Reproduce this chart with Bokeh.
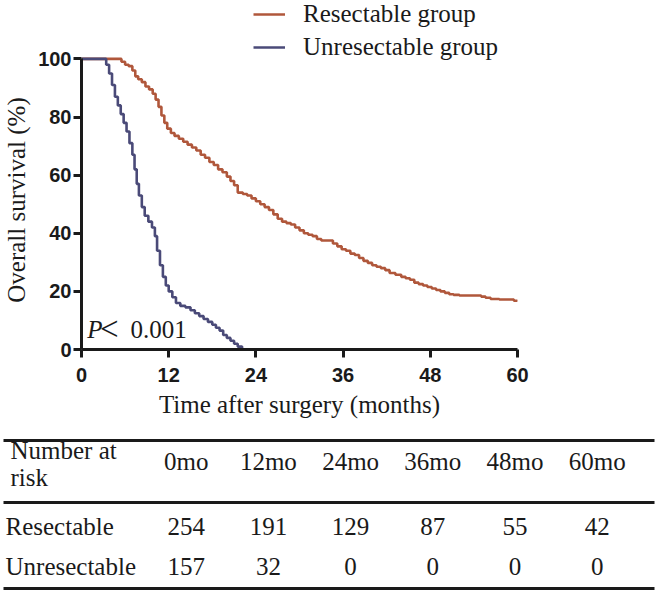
import math
from bokeh.plotting import figure
from bokeh.models import Range1d, Legend, LegendItem, Label, FixedTicker
from bokeh.embed import file_html
from bokeh.resources import INLINE
from bokeh.core.properties import value

# ---------------- data ----------------
resect_time = [0, 5.0, 5.5, 6.0, 6.5, 7.0, 7.4, 7.8, 8.3, 8.8, 9.3, 9.8, 10.2, 10.6, 11.0,
               11.4, 11.8, 12.3, 12.8, 13.4, 14.0, 14.6, 15.2, 15.8, 16.4, 17.0, 17.6,
               18.2, 18.8, 19.4, 20.0, 20.5, 21.0, 21.5, 22.2, 22.8, 23.4, 24.0, 24.6,
               25.2, 25.8, 26.4, 27.0, 27.6, 28.2, 28.8, 29.4, 30.0, 30.6, 31.2, 31.8,
               32.4, 33.0, 34.0, 34.6, 35.2, 35.8, 36.4, 37.0, 37.6, 38.2, 38.8, 39.4,
               40.0, 40.6, 41.2, 41.8, 42.4, 43.2, 44.0, 44.6, 45.2, 45.8, 46.4, 47.0,
               47.6, 48.2, 48.8, 49.4, 50.0, 50.6, 51.2, 52.0, 55.0, 55.6, 56.3, 57.5,
               59.5, 60.0]
resect_surv = [100, 100, 99, 98, 97.5, 96, 94, 93, 92, 90.5, 89.5, 88, 86, 83.5, 80.5,
               78, 76, 74.5, 73.5, 72.5, 71.5, 70.5, 69.5, 68.5, 67, 66, 64.5,
               63.5, 62, 61, 59.5, 58, 56.5, 54, 53.5, 53, 52, 51, 50,
               49, 48, 46.5, 45, 44, 43.5, 43, 42, 41, 40, 39.5, 39,
               38, 37.5, 37.5, 36.5, 35.5, 34.5, 34, 33, 32.5, 31.5, 30.5, 29.8,
               29, 28.5, 28, 27.3, 26.3, 25.7, 25, 24.5, 24, 23, 22.5, 22,
               21.5, 21, 20.5, 20, 19.5, 19, 18.8, 18.6, 18.2, 17.8, 17.4, 17.2,
               16.8, 16.5]

unresect_time = [0, 3.1, 3.4, 3.8, 4.2, 4.6, 5.0, 5.4, 5.8, 6.2, 6.6, 7.0, 7.3, 7.6, 7.9,
                 8.3, 8.7, 9.2, 9.7, 10.1, 10.4, 10.8, 11.2, 11.6, 12.0, 12.5, 13.0,
                 13.6, 14.3, 15.0, 15.6, 16.2, 16.8, 17.4, 18.0, 18.5, 19.0, 19.5, 20.0,
                 20.5, 21.0, 21.5, 22.1]
unresect_surv = [100, 100, 98, 95, 91, 87, 84, 81, 78, 75, 71, 67, 62, 57, 53,
                 49, 46, 44, 42, 39, 34, 29, 25, 22, 20, 18, 16,
                 15, 14.5, 13.5, 12.5, 11.5, 10.5, 9.5, 8.5, 7.5, 6.5, 5, 4,
                 3, 2, 1, 0]

x_ticks = [0, 12, 24, 36, 48, 60]
y_ticks = [0, 20, 40, 60, 80, 100]
group_names = ["Resectable group", "Unresectable group"]

risk_months = [0, 12, 24, 36, 48, 60]
risk_resectable = [254, 191, 129, 87, 55, 42]
risk_unresectable = [157, 32, 0, 0, 0, 0]
row_names = ["Resectable", "Unresectable"]
risk_header = ["Number at", "risk"]
p_value = "0.001"

# ---------------- styles ----------------
RES_COLOR = "#B0573B"
UNRES_COLOR = "#4A4A78"
INK = "#1a1a1a"
SERIF = "Liberation Serif"
SANS = "Liberation Sans"
W = 656
NBSP = "\u00a0"

# ---------------- KM plot ----------------
H1 = 425
FRAME_BOTTOM = 349          # pixel row of survival 0
PX_PER_PCT = 2.906
y_top = FRAME_BOTTOM / PX_PER_PCT
p = figure(width=W, height=H1, x_range=Range1d(0, 60), y_range=Range1d(0, y_top),
           output_backend="svg", toolbar_location=None,
           min_border_left=81, min_border_right=W - 517, min_border_top=0,
           min_border_bottom=H1 - FRAME_BOTTOM)
p.grid.visible = False
p.outline_line_color = None

r1 = p.step(resect_time, resect_surv, mode="after", line_color=RES_COLOR, line_width=2.6)
r2 = p.step(unresect_time, unresect_surv, mode="after", line_color=UNRES_COLOR, line_width=2.6)
m1 = p.scatter(x=[], y=[], marker="dash", angle=math.pi / 2, size=6,
               line_color=RES_COLOR, line_width=1.5)
m2 = p.scatter(x=[], y=[], marker="dash", angle=math.pi / 2, size=6,
               line_color=UNRES_COLOR, line_width=1.5)

for ax, ticks, bnds in ((p.xaxis, x_ticks, (0, 60)), (p.yaxis, y_ticks, (0, 100))):
    ax.ticker = FixedTicker(ticks=ticks)
    ax.bounds = bnds
    ax.axis_line_width = 3
    ax.axis_line_color = INK
    ax.major_tick_line_width = 3
    ax.major_tick_line_color = INK
    ax.major_tick_out = 8
    ax.major_tick_in = 0
    ax.minor_tick_line_color = None
    ax.major_label_text_font = SANS
    ax.major_label_text_font_style = "bold"
    ax.major_label_text_font_size = "20px"
    ax.major_label_text_color = INK
    ax.axis_label_text_font = SERIF
    ax.axis_label_text_font_style = "normal"
    ax.axis_label_text_font_size = "25px"
    ax.axis_label_text_color = INK

p.xaxis.axis_label = "Time after surgery (months)"
p.xaxis.major_label_standoff = 10
p.xaxis.axis_label_standoff = 6
# trailing no-break spaces centre the label on the 0-100 span rather than the whole frame
p.yaxis.axis_label = "Overall survival (%)" + NBSP * 8
p.yaxis.major_label_standoff = 2
p.yaxis.axis_label_standoff = 5

legend = Legend(items=[LegendItem(label=group_names[0], renderers=[r1, m1]),
                       LegendItem(label=group_names[1], renderers=[r2, m2])],
                location=(172, 288), orientation="vertical",
                border_line_color=None, background_fill_alpha=0,
                padding=0, margin=0, spacing=5,
                glyph_width=32, glyph_height=28, label_height=28, label_standoff=18,
                label_text_font=SERIF, label_text_font_size="25px", label_text_color=INK)
p.add_layout(legend)

P_Y = 7.0
p.add_layout(Label(x=0.8, y=P_Y, text="P", text_font=SERIF, text_font_style="italic",
                   text_font_size="25px", text_color=INK, text_baseline="alphabetic"))
p.add_layout(Label(x=2.55, y=P_Y, text="<", text_font=SERIF,
                   text_font_size="33px", text_color=INK, text_baseline="alphabetic"))
p.add_layout(Label(x=6.74, y=P_Y, text=p_value, text_font=SERIF,
                   text_font_size="25px", text_color=INK, text_baseline="alphabetic"))

# ---------------- number-at-risk table ----------------
T_H = 591 - H1
COL0, COL_STEP = 185.7, 82.2      # pixel centre of first column, column pitch
x0 = -COL0 / COL_STEP
x1 = x0 + W / COL_STEP
t = figure(width=W, height=T_H, x_range=Range1d(x0, x1), y_range=Range1d(T_H, 0),
           output_backend="svg", toolbar_location=None, x_axis_type=None, y_axis_type=None,
           min_border_left=0, min_border_right=0, min_border_top=0, min_border_bottom=0)
t.grid.visible = False
t.outline_line_color = None

cols = list(range(len(risk_months)))
line_y = [15, 77, 163]
header_line_y = [25, 52]
header_y = 36
row_y = [101, 141]
head_x = x0 + 10 / COL_STEP
label_x = x0 + 5 / COL_STEP

t.segment(x0=[x0 + 3 / COL_STEP] * 3, x1=[x1 - 2 / COL_STEP] * 3, y0=line_y, y1=line_y,
          line_width=3, line_color=INK)

txt = dict(text_font=value(SERIF), text_font_size="25px", text_color=INK,
           text_baseline="alphabetic")
t.text(x=[head_x] * 2, y=header_line_y, text=risk_header, text_align="left", **txt)
t.text(x=cols, y=[header_y] * len(cols), text=[f"{m}mo" for m in risk_months],
       text_align="center", **txt)
t.text(x=[label_x] * 2, y=row_y, text=row_names, text_align="left", **txt)
t.text(x=cols, y=[row_y[0]] * len(cols), text=[str(v) for v in risk_resectable],
       text_align="center", **txt)
t.text(x=cols, y=[row_y[1]] * len(cols), text=[str(v) for v in risk_unresectable],
       text_align="center", **txt)

open("out.html", "w").write(file_html([p, t], INLINE))
